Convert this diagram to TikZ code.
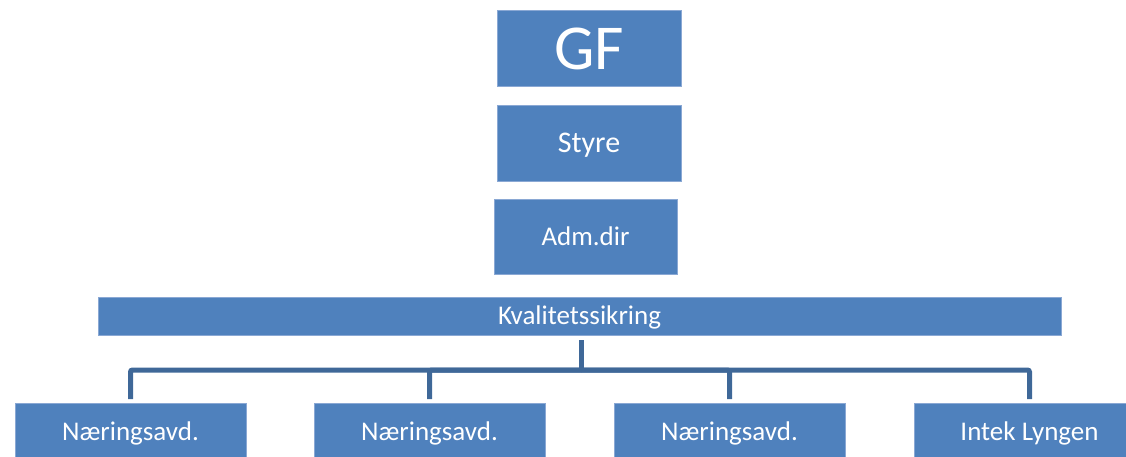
\documentclass[tikz,border=0pt]{standalone}
\usepackage{fontspec}
\setmainfont{Carlito}
\definecolor{boxblue}{HTML}{4F81BD}
\definecolor{boxedge}{HTML}{8AA8D4}
\definecolor{linkblue}{HTML}{3F6898}
\begin{document}
\begin{tikzpicture}[x=1pt,y=1pt,
  box/.style={fill=boxblue, draw=boxedge, line width=0.8pt, text=white, inner sep=0pt,
    align=center, font=\fontsize{27}{32}\selectfont, text height=17.5pt, text depth=0pt},
  bigtext/.style={font=\fontsize{64}{70}\selectfont, text height=41pt},
  midtext/.style={font=\fontsize{30}{36}\selectfont, text height=19.5pt},
  link/.style={draw=linkblue, line width=5pt, rounded corners=2pt}]
\useasboundingbox[clip] (0,0) rectangle (1126,-456);
\node[box, bigtext, minimum width=184, minimum height=76] (gf) at (589,-48.5) {GF};
\node[box, midtext, minimum width=184, minimum height=76] (styre) at (589,-143) {Styre};
\node[box, minimum width=183, minimum height=75] (adm) at (585.5,-236.5) {Adm.dir};
\node[box, minimum width=963, minimum height=38] (kval) at (579.5,-316) {Kvalitetssikring};
\node[box, minimum width=231, minimum height=56] (n1) at (130.5,-431.5) {Næringsavd.};
\node[box, minimum width=231, minimum height=56] (n2) at (429.5,-431.5) {Næringsavd.};
\node[box, minimum width=231, minimum height=56] (n3) at (729.5,-431.5) {Næringsavd.};
\node[box, minimum width=231, minimum height=56] (intek) at (1029.5,-431.5) {Intek Lyngen};
\coordinate (hub) at (581,-370);
\draw[link] ([yshift=-5pt]kval.south -| hub) -- (hub);
\draw[link, shorten >=4pt] (hub) -| (n1.north);
\draw[link, shorten >=4pt] (hub) -| (n2.north);
\draw[link, shorten >=4pt] (hub) -| (n3.north);
\draw[link, shorten >=4pt] (hub) -| (intek.north);
\end{tikzpicture}
\end{document}
